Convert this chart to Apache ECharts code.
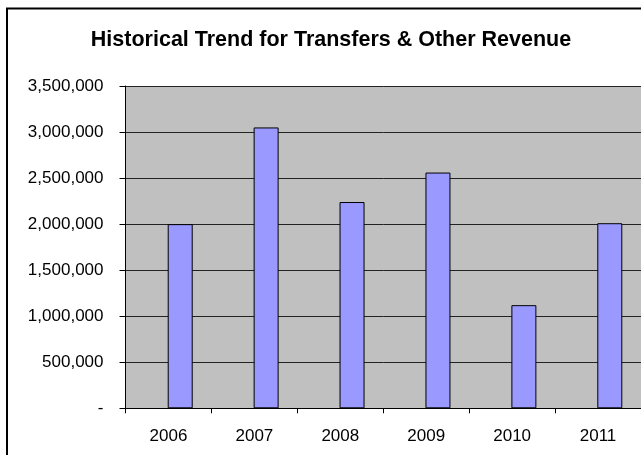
<!DOCTYPE html>
<html>
<head>
<meta charset="utf-8">
<script src="https://cdn.jsdelivr.net/npm/echarts@6/dist/echarts.min.js"></script>
<style>
html,body{margin:0;padding:0;background:#fff;}
#c{width:641px;height:455px;}
</style>
</head>
<body>
<div id="c"></div>
<script>
const titleText = 'Historical Trend for Transfers & Other Revenue';
const categories = ['2006', '2007', '2008', '2009', '2010', '2011'];
const revenue = [2000000, 3050000, 2240000, 2560000, 1120000, 2010000];
const emptySeries = [null, null, null, null, null, null];
const yMin = 0, yMax = 3500000, yStep = 500000;

function fmt(v) {
  if (v === 0) return '-';
  return String(v).replace(/\B(?=(\d{3})+(?!\d))/g, ',');
}

const chart = echarts.init(document.getElementById('c'), null, {renderer: 'canvas'});
const font = 'Liberation Sans, Arial, sans-serif';
chart.setOption({
  animation: false,
  backgroundColor: '#ffffff',
  title: {
    text: titleText,
    left: 326, textAlign: 'center',
    top: 24,
    textStyle: {fontFamily: font, fontSize: 21.5, fontWeight: 'bold', color: '#000'}
  },
  graphic: [{
    type: 'rect', z: 100,
    shape: {x: 7, y: 8.5, width: 700, height: 500},
    style: {fill: 'none', stroke: '#000', lineWidth: 2}
  }],
  grid: {left: 125.5, top: 86, width: 520, height: 322.3, backgroundColor: '#C0C0C0', show: true, borderWidth: 0},
  xAxis: {
    type: 'category', data: categories, boundaryGap: true,
    axisLine: {lineStyle: {color: '#000', width: 1}},
    axisTick: {show: true, alignWithLabel: false, length: 5, lineStyle: {color: '#000'}},
    axisLabel: {fontFamily: font, fontSize: 17, color: '#000', margin: 20},
    splitLine: {show: false}
  },
  yAxis: {
    type: 'value', min: yMin, max: yMax, interval: yStep,
    axisLine: {show: true, lineStyle: {color: '#000', width: 1}},
    axisTick: {show: true, length: 6, lineStyle: {color: '#000'}},
    axisLabel: {fontFamily: font, fontSize: 17, color: '#000', margin: 22, formatter: fmt},
    splitLine: {show: true, lineStyle: {color: '#222', width: 1}}
  },
  series: [
    {name: 'placeholder', type: 'bar', data: emptySeries, barWidth: 25, barGap: '-6%'},
    {name: 'Revenue', type: 'bar', data: revenue, barWidth: 25, barGap: '-6%',
     itemStyle: {color: '#9999FF', borderColor: '#000', borderWidth: 1}}
  ]
});
</script>
</body>
</html>
